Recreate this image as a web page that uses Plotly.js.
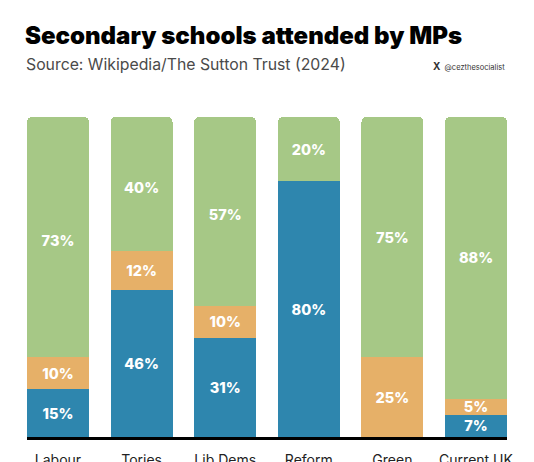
<!DOCTYPE html>
<html>
<head>
<meta charset="utf-8">
<script src="https://cdn.plot.ly/plotly-3.0.1.min.js"></script>
<style>
  html, body { margin: 0; padding: 0; background: #ffffff; }
  #chart { width: 534px; height: 462px; }
</style>
</head>
<body>
<div id="chart"></div>
<script>
// Data (share of MPs, %)
const parties = ['Labour', 'Tories', 'Lib Dems', 'Reform', 'Green', 'Current UK'];
const independent = [15, 46, 31, 80, 0, 7];     // blue
const grammar = [10, 12, 10, 0, 25, 5];          // orange
const comprehensive = [73, 40, 57, 20, 75, 88];  // green
const other = [2, 2, 2, 0, 0, 0];                // unlabelled remainder (drawn green)

const BLUE = '#2E86AE';
const ORANGE = '#E6B068';
const GREEN = '#A6C886';
const FONT = 'Inter, "Noto Sans", sans-serif';

function pctText(arr) { return arr.map(v => v ? v + '%' : ''); }

function barTrace(name, values, color, labelled) {
  return {
    type: 'bar',
    name: name,
    x: parties,
    y: values,
    marker: { color: color, line: { width: 0 } },
    text: labelled ? pctText(values) : values.map(() => ''),
    textposition: 'inside',
    insidetextanchor: 'middle',
    textangle: 0,
    constraintext: 'none',
    textfont: { family: FONT, size: 14.5, color: '#ffffff', weight: 800 },
    hovertemplate: '%{x}: %{y}%<extra>' + name + '</extra>'
  };
}

const data = [
  barTrace('Independent', independent, BLUE, true),
  barTrace('Grammar', grammar, ORANGE, true),
  barTrace('Comprehensive', comprehensive, GREEN, true),
  barTrace('Other', other, GREEN, false)
];

const plotTop = 117, plotBottom = 437, plotH = plotBottom - plotTop;
function py(px) { return (plotBottom - px) / plotH; }

const layout = {
  width: 534,
  height: 462,
  margin: { l: 27, r: 27, t: plotTop, b: 462 - plotBottom, pad: 0 },
  paper_bgcolor: '#ffffff',
  plot_bgcolor: '#ffffff',
  barmode: 'stack',
  bargap: 0.259,
  barcornerradius: 5,
  showlegend: false,
  uniformtext: { minsize: 14.5, mode: 'show' },
  font: { family: FONT },
  xaxis: {
    type: 'category',
    range: [-0.3705, 5.3705],
    showline: true,
    linecolor: '#000000',
    linewidth: 2.5,
    showgrid: false,
    zeroline: false,
    ticks: '',
    ticklabelstandoff: 8,
    tickfont: { family: FONT, size: 14, color: '#222222' },
    fixedrange: true
  },
  yaxis: {
    range: [0, 100],
    visible: false,
    fixedrange: true
  },
  title: {
    text: 'Secondary schools attended by MPs',
    font: { family: FONT, size: 24, color: '#000000', weight: 900 },
    x: 25 / 534,
    xanchor: 'left',
    xref: 'container',
    y: 1 - 27 / 462,
    yanchor: 'top',
    yref: 'container'
  },
  annotations: [
    {
      text: 'Source: Wikipedia/The Sutton Trust (2024)',
      xref: 'paper', yref: 'paper',
      x: -3 / 480, y: py(65), xanchor: 'left', yanchor: 'middle',
      showarrow: false,
      font: { family: FONT, size: 15.8, color: '#4a4a4a' }
    },
    {
      text: '<span style="font-size:10px"><b>X</b></span>  @cezthesocialist',
      xref: 'paper', yref: 'paper',
      x: 1, y: py(66), xanchor: 'right', yanchor: 'middle',
      showarrow: false,
      font: { family: FONT, size: 7.5, color: '#333333' }
    }
  ]
};

Plotly.newPlot('chart', data, layout, { displayModeBar: false, staticPlot: false });
</script>
</body>
</html>
